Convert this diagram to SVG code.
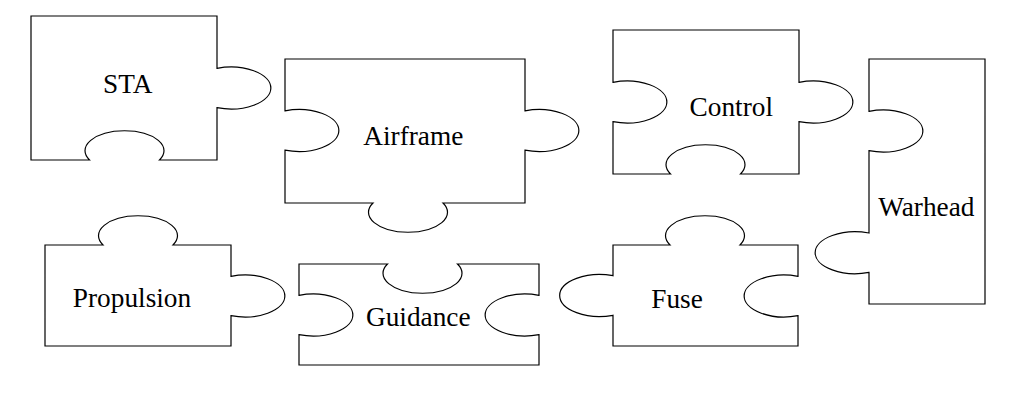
<svg xmlns="http://www.w3.org/2000/svg" width="1018" height="420" viewBox="0 0 1018 420">
<style>
.p{fill:#fff;stroke:#000;stroke-width:1.2;stroke-linejoin:miter}
.t{font-family:"Liberation Serif","Times New Roman",serif;font-size:27.3px;fill:#000;text-anchor:middle}
</style>
<rect width="1018" height="420" fill="#fff"/>
<g id="connectors"></g>
<g id="sta">
<path class="p" d="M31,16 H217 V68.3 A40,21 0 1 1 217,107.7 V160 H159.5 A39.5,20 0 1 0 89.5,160 H31 Z"/>
<text class="t" x="127.7" y="93.3">STA</text>
</g>
<g id="airframe">
<path class="p" d="M285,59 H525 V110.8 A40,21 0 1 1 525,150.2 V203 H443 A39.5,20 0 1 1 373,203 H285 V150.2 A40,21 0 1 0 285,110.8 Z"/>
<text class="t" x="413.3" y="145">Airframe</text>
</g>
<g id="control">
<path class="p" d="M613,30 H799 V82.3 A40,21 0 1 1 799,121.7 V174 H740.5 A39.5,20 0 1 0 670.5,174 H613 V121.7 A40,21 0 1 0 613,82.3 Z"/>
<text class="t" x="731.3" y="115.7">Control</text>
</g>
<g id="warhead">
<path class="p" d="M869,59 H985 V304 H869 V272.4 A40,21 0 1 1 869,233 V150.7 A40,21 0 1 0 869,111.3 Z"/>
<text class="t" x="926.3" y="216">Warhead</text>
</g>
<g id="propulsion">
<path class="p" d="M45,245 H103 A39.5,20 0 1 1 173,245 H231 V276.3 A40,21 0 1 1 231,315.7 V346 H45 Z"/>
<text class="t" x="132" y="306.7">Propulsion</text>
</g>
<g id="guidance">
<path class="p" d="M299,264 H387.5 A39.5,20 0 1 0 457.5,264 H539 V295.3 A40,21 0 1 0 539,334.7 V365 H299 V334.7 A40,21 0 1 0 299,295.3 Z"/>
<text class="t" x="418.3" y="326">Guidance</text>
</g>
<g id="fuse">
<path class="p" d="M613,245 H670 A39.5,20 0 1 1 740,245 H798 V276.3 A40,21 0 1 0 798,315.7 V346 H613 V315.3 A40,21 0 1 1 613,275.7 Z"/>
<text class="t" x="677" y="307.7">Fuse</text>
</g>
</svg>
